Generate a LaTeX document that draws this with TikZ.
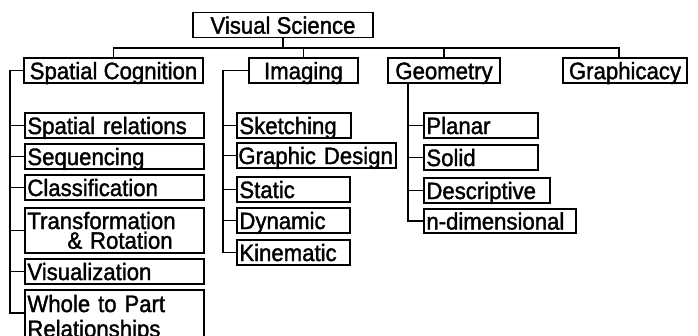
\documentclass[tikz,border=0pt]{standalone}
\usepackage{fontspec}
\setmainfont[FakeStretch=0.935,FakeBold=1.5]{Liberation Sans}
\begin{document}
\begin{tikzpicture}[x=1pt,y=-1pt,
  every node/.style={font=\fontsize{23.7}{24}\selectfont},
  lvl/.style={draw, line width=1.8pt, inner xsep=2.5pt, inner ysep=0pt,
    text height=17.3pt, text depth=0pt, minimum height=25pt},
  leafbase/.style={draw, line width=1.8pt, inner xsep=2.5pt, inner ysep=0pt,
    anchor=north west, align=left, minimum height=25pt},
  leaf/.style={leafbase, text height=17.3pt, text depth=0pt},
  link/.style={line width=1.8pt}]
\useasboundingbox (0,0) rectangle (698,335);
\clip (0,0) rectangle (698,335);

% top levels
\node[lvl, minimum width=180pt] (vs) at (283,25) {Visual Science};
\node[lvl, minimum width=179pt] (sc) at (113.5,70.5) {Spatial Cognition};
\node[lvl, minimum width=109pt] (im) at (303.5,70.5) {Imaging};
\node[lvl, minimum width=112pt] (ge) at (444,70.5) {Geometry};
\node[lvl, minimum width=124pt] (gr) at (625,70.5) {Graphicacy};

% Spatial Cognition leaves
\node[leaf, text width=174pt] (sr) at (24,112) {Spatial relations};
\node[leaf, text width=174pt] (sq) at (24,143) {Sequencing};
\node[leaf, text width=174pt] (cl) at (24,174) {Classification};
\node[leafbase, text width=174pt, minimum height=45pt,
  font=\fontsize{23.7}{19.7}\selectfont] (tr) at (24,207)
  {Transformation\\\hspace*{40pt}\& Rotation};
\node[leaf, text width=174pt] (vi) at (24,258) {Visualization};
\node[leafbase, text width=174pt, minimum height=57pt,
  font=\fontsize{23.7}{25}\selectfont] (wp) at (24,289)
  {Whole to Part\\Relationships};

% Imaging leaves
\node[leaf, text width=109pt] (sk) at (236,112) {Sketching};
\node[leaf, text width=156pt, inner xsep=1.5pt] (gd) at (236,142) {Graphic Design};
\node[leaf, text width=108pt] (st) at (236,176) {Static};
\node[leaf, text width=108pt] (dy) at (236,207) {Dynamic};
\node[leaf, text width=108pt] (ki) at (236,239) {Kinematic};

% Geometry leaves
\node[leaf, text width=109pt] (pl) at (423,112) {Planar};
\node[leaf, text width=109pt] (so) at (423,144) {Solid};
\node[leaf, text width=121pt] (de) at (423,177) {Descriptive};
\node[leaf, text width=147pt, minimum height=24pt] (nd) at (423,208) {n-dimensional};

% bus
\coordinate (bus) at (0,48);
\draw[link] (vs.south) -- (vs.south |- bus) -| (sc.north);
\draw[link] (vs.south |- bus) -| (im.north);
\draw[link] (vs.south |- bus) -| (ge.north);
\draw[link] (vs.south |- bus) -| ([xshift=-6pt]gr.north);

% Spatial Cognition spine
\coordinate (scx) at (10,0);
\draw[link] (sc.west) -- (sc.west -| scx) |- ([yshift=5.5pt]wp.west);
\foreach \n in {sr,sq,cl,tr,vi}
  \draw[link] (\n.west -| scx) -- (\n.west);

% Imaging spine
\coordinate (imx) at (223,0);
\draw[link] (im.west) -- (im.west -| imx) |- (ki.west);
\foreach \n in {sk,gd,st,dy}
  \draw[link] (\n.west -| imx) -- (\n.west);

% Geometry spine
\coordinate (gex) at (408,0);
\draw[link] (ge.south -| gex) |- (nd.west);
\foreach \n in {pl,so,de}
  \draw[link] (\n.west -| gex) -- (\n.west);
\end{tikzpicture}
\end{document}
